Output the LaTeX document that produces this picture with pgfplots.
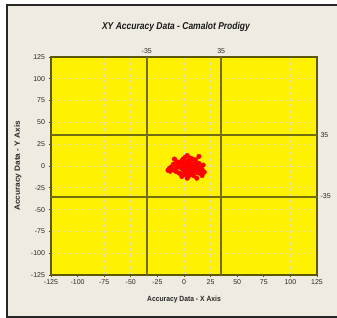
\documentclass[border=0pt]{standalone}
\usepackage{pgfplots}
\pgfplotsset{compat=1.18}
\usepackage{fontspec}
\setmainfont{Liberation Sans}
\definecolor{bgbeige}{RGB}{239,235,224}
\definecolor{oliveline}{RGB}{115,110,10}
\definecolor{gridgray}{RGB}{222,222,170}
\begin{document}
\begin{tikzpicture}[x=1pt,y=1pt]
\useasboundingbox (0,0) rectangle (337,318);
\fill[white] (0,0) rectangle (337,318);
\fill[bgbeige] (7,1) rectangle (345,313);
\draw[black!85, line width=1.6pt] (7,1) rectangle (345,313);
\begin{axis}[
  at={(51pt,43pt)}, anchor=south west,
  scale only axis, width=266pt, height=218pt,
  xmin=-125, xmax=125, ymin=-125, ymax=125,
  xtick={-125,-100,...,125}, ytick={-125,-100,...,125},
  axis background/.style={fill=yellow},
  grid=major,
  grid style={dashed, gridgray, line width=0.8pt},
  axis line style={oliveline!80!black, line width=1.5pt},
  tick align=outside, major tick length=2.5pt,
  tick style={oliveline!70!black, line width=0.7pt},
  xtick pos=bottom, ytick pos=left,
  /pgf/number format/assume math mode=true,
  ticklabel style={font=\fontsize{7}{8}\selectfont, text=black!85},
  xticklabel style={yshift=1pt},
  clip=false,
]
\addplot[oliveline, line width=2pt] coordinates {(-35,-125) (-35,125)};
\addplot[oliveline, line width=2pt] coordinates {(35,-125) (35,125)};
\addplot[oliveline, line width=2pt] coordinates {(-125,-35) (125,-35)};
\addplot[oliveline, line width=2pt] coordinates {(-125,35) (125,35)};
\addplot[only marks, mark=*, mark size=2.3pt, red, mark options={draw=red, fill=red}] coordinates {
(-14,-3) (-15,-5) (-12,-1) (-10,2) (-9,8) (-7,5) (-8,-6) (-6,0) (-5,-8) (-4,3)
(-3,-2) (-2,6) (-1,-4) (0,1) (0,-10) (1,10) (1,-3) (2,4) (2,-7) (3,0)
(3,12) (4,-2) (4,-12) (5,6) (5,3) (6,-5) (6,-1) (7,2) (7,-9) (8,8)
(8,-3) (9,0) (10,-6) (10,4) (11,-1) (12,-14) (12,2) (13,-8) (14,3) (15,-2)
(16,-9) (17,-4) (18,1) (19,-7) (14,11) (-11,-4) (-1,8) (3,-14) (-3,-9) (9,-11)
(6,9) (0,4) (2,-1) (-5,4) (11,7) (13,-4) (1,-8) (4,6) (-7,-2) (8,-6)
(-13,-6) (5,-10) (16,-6) (17,-11) (-2,-12)
};
\node[font=\fontsize{7}{8}\selectfont, text=black!85, above] at (axis cs:-35,125) {-35};
\node[font=\fontsize{7}{8}\selectfont, text=black!85, above] at (axis cs:35,125) {35};
\node[font=\fontsize{7}{8}\selectfont, text=black!85, right] at (axis cs:125,35) {35};
\node[font=\fontsize{7}{8}\selectfont, text=black!85, right] at (axis cs:125,-35) {-35};
\end{axis}
\node[font=\fontsize{10}{12}\selectfont\bfseries\itshape, text=black!90] at (176,291) {\scalebox{0.85}[1]{XY Accuracy Data - Camalot Prodigy}};
\node[font=\fontsize{7.5}{9}\selectfont\bfseries, text=black!85] at (184,18) {\scalebox{0.9}[1]{Accuracy Data - X Axis}};
\node[font=\fontsize{7.5}{9}\selectfont\bfseries, text=black!85, rotate=90] at (18,152) {\scalebox{1.1}[1]{Accuracy Data - Y Axis}};
\end{tikzpicture}
\end{document}
